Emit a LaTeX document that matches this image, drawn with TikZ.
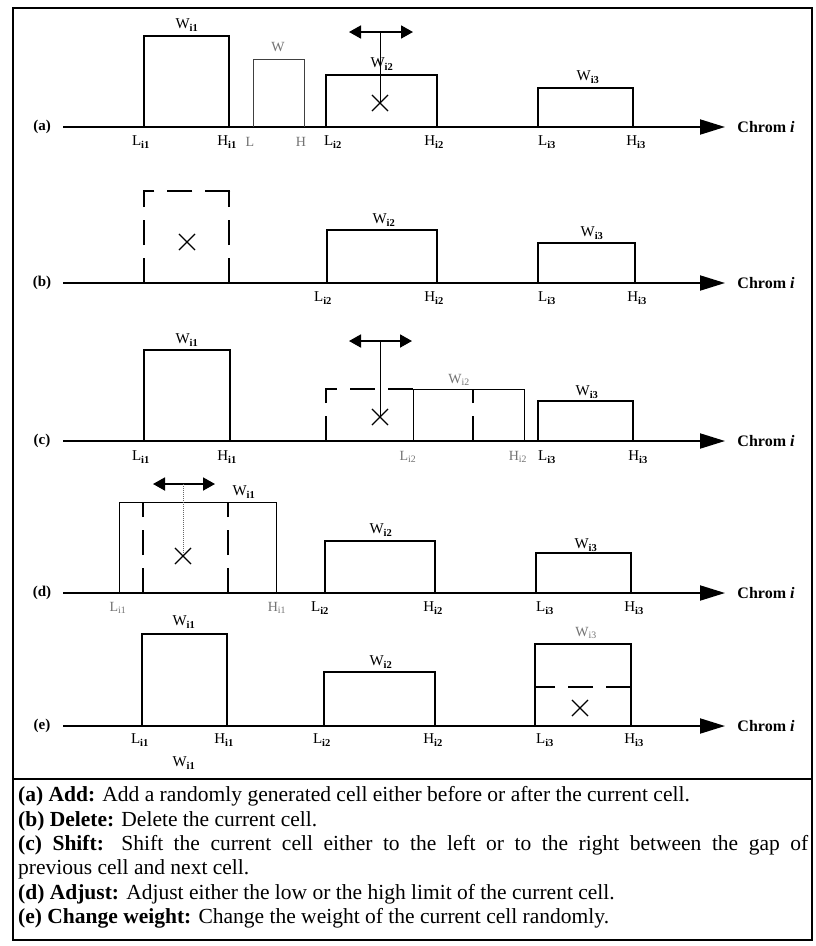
\documentclass[tikz,border=0pt]{standalone}
\usepackage{fontspec}
\setmainfont{Liberation Serif}
\usetikzlibrary{arrows.meta,shapes.misc}
\newcommand{\lw}[2]{#1\textsubscript{\bfseries #2}}
\newcommand{\tw}[2]{#1\textsubscript{#2}}
\tikzset{
 axis/.style={line width=2pt,-{Triangle[length=25pt,width=15pt]}},
 cell/.style={line width=1.8pt},
 thincell/.style={line width=1pt, black!75},
 dcell/.style={line width=2.5pt, dash pattern=on 25pt off 13pt},
 lbl/.style={font=\fontsize{15}{15}\selectfont, inner sep=0pt},
 tlbl/.style={font=\fontsize{14}{14}\selectfont, text=black!55, inner sep=0pt},
 plab/.style={font=\fontsize{15}{15}\selectfont\bfseries, inner sep=0pt},
 chrom/.style={font=\fontsize{16}{16}\selectfont\bfseries, inner sep=0pt},
 cross/.style={draw, cross out, minimum size=15pt, line width=1.1pt, inner sep=0pt},
 dbl/.style={line width=1.8pt, {Triangle[length=12pt,width=13pt]}-{Triangle[length=12pt,width=13pt]}},
 stem/.style={line width=1pt},
 txt/.style={font=\fontsize{21.5}{21.5}\selectfont, inner sep=0pt, anchor=base west},
}
\begin{document}
\begin{tikzpicture}[x=1pt,y=-1pt]
\useasboundingbox (0,0) rectangle (816,946);
\fill[white] (0,0) rectangle (816,946);
% frame
\draw[line width=1.3pt] (13,8) rectangle (812,940);
\draw[line width=1.3pt] (13,779) -- (812,779);

% ---------- (a)
\node[plab] (pa) at (42,127) {(a)};
\coordinate (a0) at (63,127); \coordinate (a1) at (725,127);
\draw[axis] (a0) -- (a1);
\node[chrom] (ca) at (766,127) {Chrom \textit{i}};
\draw[cell] (144,127) |- (229,36) -- (229,127);
\draw[thincell] (253,127) |- (304,59) -- (304,127);
\draw[cell] (326,127) |- (437,75) -- (437,127);
\draw[cell] (538,127) |- (633,88) -- (633,127);
\node[lbl] (aw1) at (187,25) {\lw{W}{i1}};
\node[tlbl] (aw) at (278,47) {W};
\node[lbl] (aw2) at (382,64) {\lw{W}{i2}};
\node[lbl] (aw3) at (588,77) {\lw{W}{i3}};
\node[cross] (ax) at (380,103) {};
\coordinate (aal) at (349,32); \coordinate (aar) at (413,32); \coordinate (aam) at (380,32);
\draw[dbl] (aal) -- (aar);
\draw[stem] (aam) -- (ax.center);
\node[lbl] at (141,142) {\lw{L}{i1}};
\node[lbl] at (227,142) {\lw{H}{i1}};
\node[tlbl] at (250,142) {L};
\node[tlbl] at (301,142) {H};
\node[lbl] at (333,142) {\lw{L}{i2}};
\node[lbl] at (434,142) {\lw{H}{i2}};
\node[lbl] at (547,142) {\lw{L}{i3}};
\node[lbl] at (636,142) {\lw{H}{i3}};

% ---------- (b)
\node[plab] (pb) at (42,283) {(b)};
\coordinate (b0) at (63,283); \coordinate (b1) at (725,283);
\draw[axis] (b0) -- (b1);
\node[chrom] (cb) at (766,283) {Chrom \textit{i}};
\draw[dcell] (144,283) -- (144,191);
\draw[dcell] (229,283) -- (229,191);
\draw[dcell] (230.25,191) -- (142.75,191);
\node[cross] (bx) at (187,242) {};
\draw[cell] (327,283) |- (437,230) -- (437,283);
\draw[cell] (538,283) |- (635,243) -- (635,283);
\node[lbl] at (384,220) {\lw{W}{i2}};
\node[lbl] at (592,233) {\lw{W}{i3}};
\node[lbl] at (323,298) {\lw{L}{i2}};
\node[lbl] at (434,298) {\lw{H}{i2}};
\node[lbl] at (547,298) {\lw{L}{i3}};
\node[lbl] at (637,298) {\lw{H}{i3}};

% ---------- (c)
\node[plab] (pc) at (42,441) {(c)};
\coordinate (c0) at (63,441); \coordinate (c1) at (725,441);
\draw[axis] (c0) -- (c1);
\node[chrom] (cc) at (766,441) {Chrom \textit{i}};
\draw[cell] (144,441) |- (230,350) -- (230,441);
\node[lbl] at (187,340) {\lw{W}{i1}};
\draw[dcell] (326,441) |- (413,389);
\draw[thincell,black] (413,441) |- (524,389) -- (524,441);
\draw[dcell] (473,441) -- (473,389);
\draw[cell] (538,441) |- (633,401) -- (633,441);
\node[tlbl] at (459,380) {\tw{W}{i2}};
\node[lbl] at (587,392) {\lw{W}{i3}};
\node[cross] (cx) at (380,417) {};
\coordinate (cal) at (349,341); \coordinate (car) at (412,341); \coordinate (cam) at (380,341);
\draw[dbl] (cal) -- (car);
\draw[stem] (cam) -- (cx.center);
\node[lbl] at (141,457) {\lw{L}{i1}};
\node[lbl] at (227,457) {\lw{H}{i1}};
\node[tlbl] at (408,457) {\tw{L}{i2}};
\node[tlbl] at (518,457) {\tw{H}{i2}};
\node[lbl] at (547,457) {\lw{L}{i3}};
\node[lbl] at (638,457) {\lw{H}{i3}};

% ---------- (d)
\node[plab] (pd) at (42,593) {(d)};
\coordinate (d0) at (63,593); \coordinate (d1) at (725,593);
\draw[axis] (d0) -- (d1);
\node[chrom] (cd) at (766,593) {Chrom \textit{i}};
\draw[thincell,black] (119,593) |- (276,502) -- (276,593);
\draw[dcell] (143,593) -- (143,502);
\draw[dcell] (228,593) -- (228,502);
\node[lbl] at (244,492) {\lw{W}{i1}};
\node[cross] (dx) at (183,556) {};
\coordinate (dal) at (153,484); \coordinate (dar) at (215,484); \coordinate (dam) at (183,484);
\draw[dbl] (dal) -- (dar);
\draw[stem,densely dotted,line width=0.6pt,black!60] (dam) -- (dx.center);
\draw[cell] (325,593) |- (435,541) -- (435,593);
\draw[cell] (536,593) |- (631,553) -- (631,593);
\node[lbl] at (381,530) {\lw{W}{i2}};
\node[lbl] at (586,545) {\lw{W}{i3}};
\node[tlbl] at (118,608) {\tw{L}{i1}};
\node[tlbl] at (277,608) {\tw{H}{i1}};
\node[lbl] at (320,608) {\lw{L}{i2}};
\node[lbl] at (433,608) {\lw{H}{i2}};
\node[lbl] at (545,608) {\lw{L}{i3}};
\node[lbl] at (634,608) {\lw{H}{i3}};

% ---------- (e)
\node[plab] (pe) at (42,726) {(e)};
\coordinate (e0) at (63,726); \coordinate (e1) at (725,726);
\draw[axis] (e0) -- (e1);
\node[chrom] (ce) at (766,726) {Chrom \textit{i}};
\draw[cell] (142,726) |- (227,634) -- (227,726);
\draw[cell] (324,726) |- (435,672) -- (435,726);
\draw[cell] (535,726) |- (631,644) -- (631,726);
\draw[dcell] (631,687) -- (535,687);
\node[cross] (ex) at (580,708) {};
\node[lbl] at (184,622) {\lw{W}{i1}};
\node[lbl] at (381,662) {\lw{W}{i2}};
\node[tlbl] at (586,633) {\tw{W}{i3}};
\node[lbl] at (140,740) {\lw{L}{i1}};
\node[lbl] at (224,740) {\lw{H}{i1}};
\node[lbl] at (322,740) {\lw{L}{i2}};
\node[lbl] at (433,740) {\lw{H}{i2}};
\node[lbl] at (545,740) {\lw{L}{i3}};
\node[lbl] at (634,740) {\lw{H}{i3}};
\node[lbl] at (184,763) {\lw{W}{i1}};

% ---------- text
\node[txt] (t1) at (18,801) {\textbf{(a) Add:} Add a randomly generated cell either before or after the current cell.};
\node[txt] (t2) at (18,826) {\textbf{(b) Delete:} Delete the current cell.};
\node[txt] (t3) at (18,850) {\hbox to 790pt{\textbf{(c) Shift:} Shift the current cell either to the left or to the right between the gap of}};
\node[txt] (t4) at (18,874) {previous cell and next cell.};
\node[txt] (t5) at (18,899) {\textbf{(d) Adjust:} Adjust either the low or the high limit of the current cell.};
\node[txt] (t6) at (18,923) {\textbf{(e) Change weight:} Change the weight of the current cell randomly.};
\end{tikzpicture}
\end{document}
